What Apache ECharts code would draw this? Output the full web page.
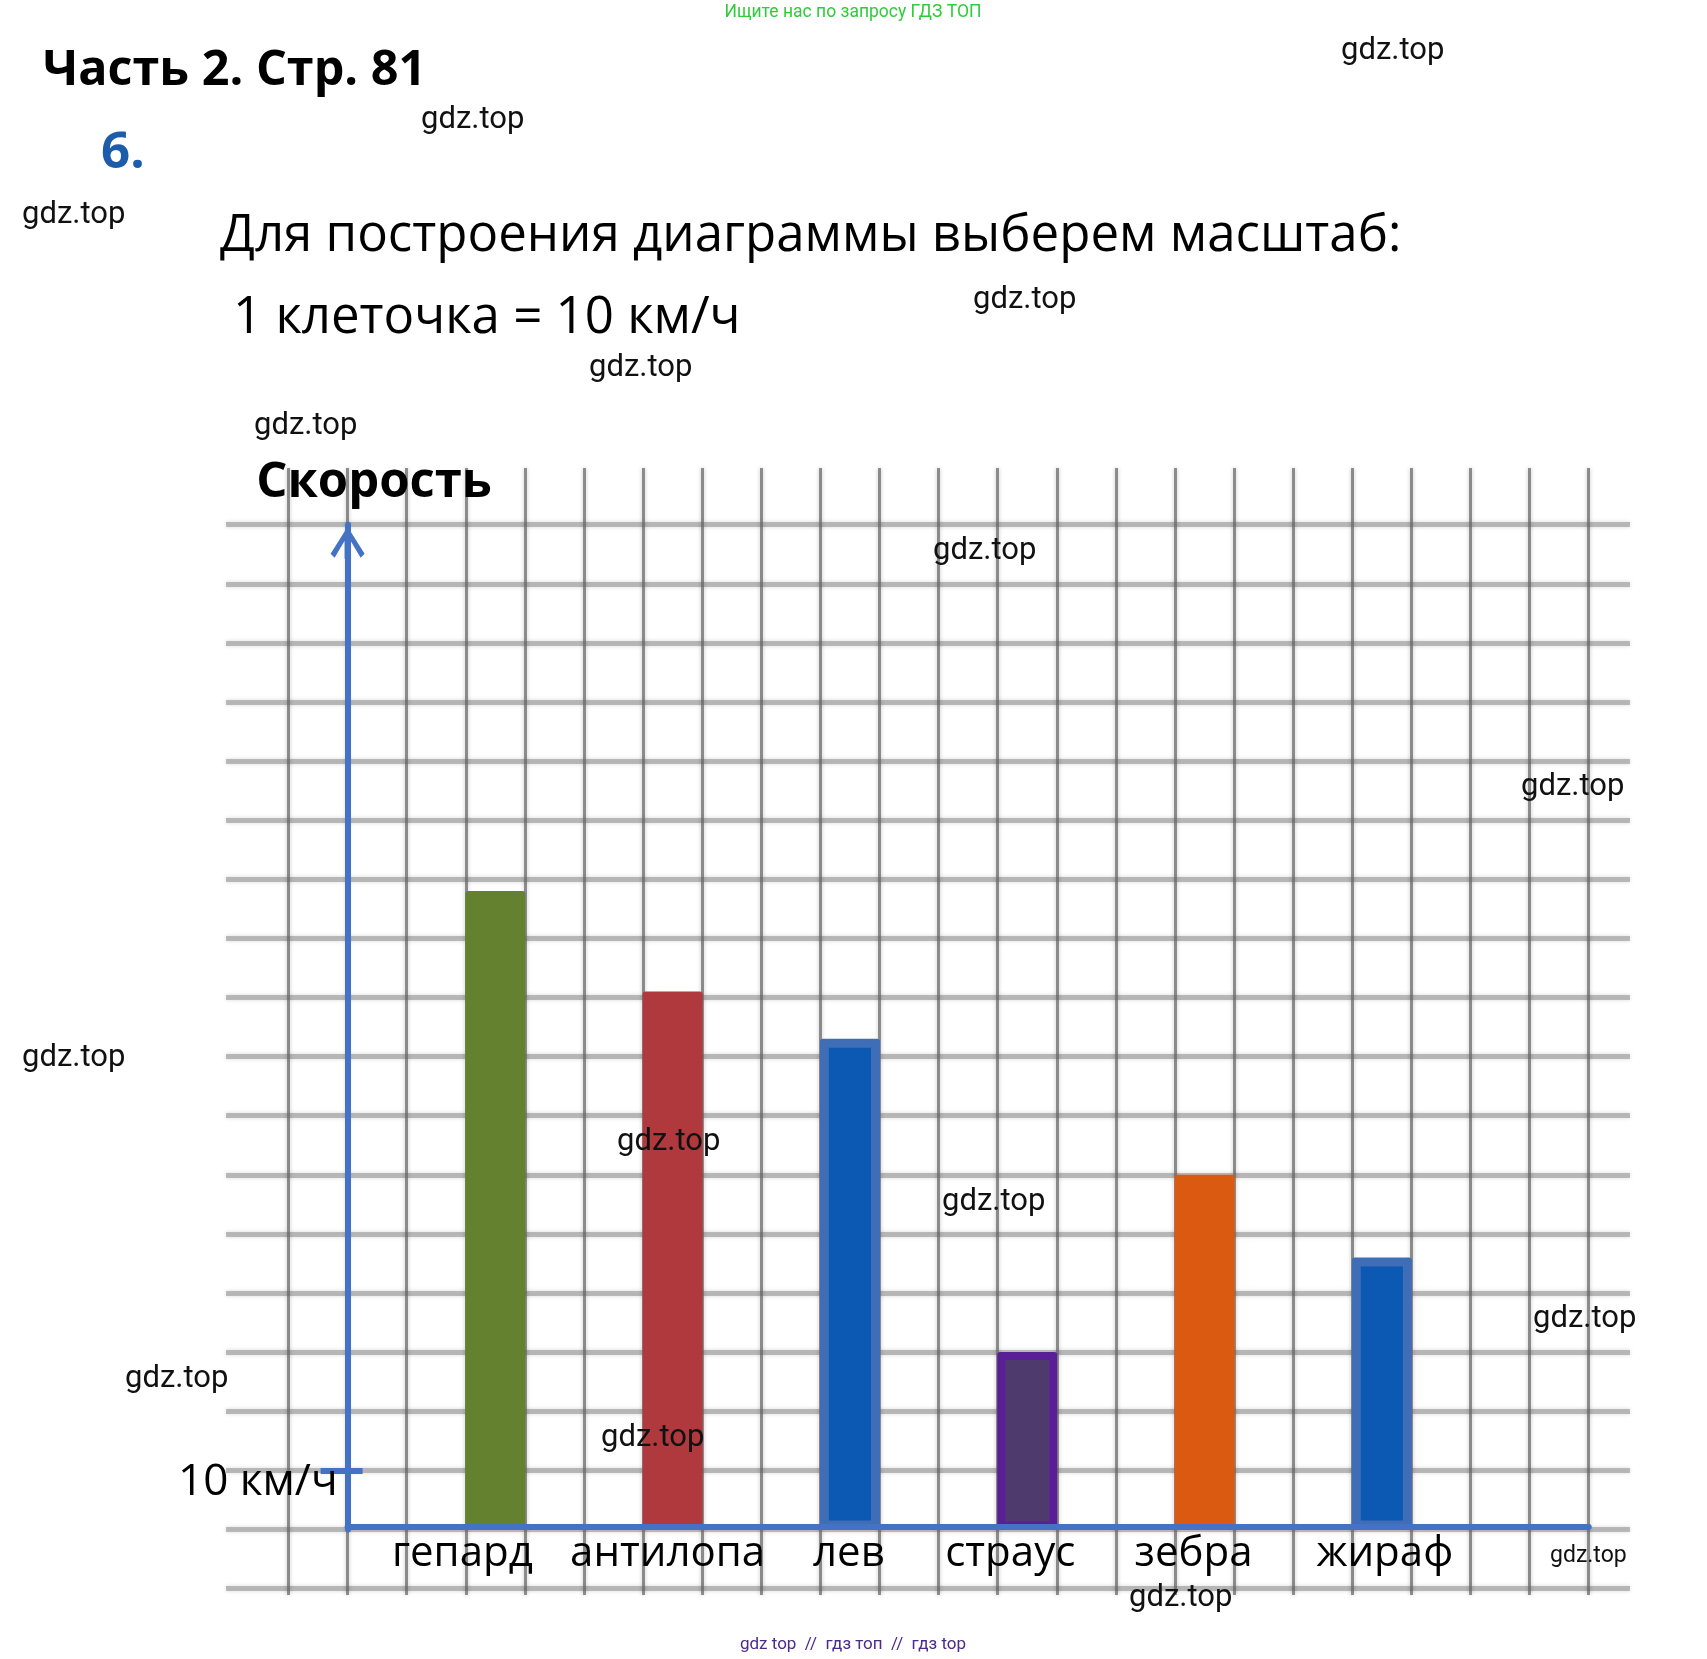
<!DOCTYPE html>
<html><head><meta charset="utf-8">
<script src="https://cdn.jsdelivr.net/npm/echarts@6/dist/echarts.min.js"></script>
<style>html,body{margin:0;padding:0;background:#fff}#c{width:1707px;height:1659px;background:#fff}</style>
</head><body><div id="c"></div>
<script>
// ---- data ----
const animals = ['гепард', 'антилопа', 'лев', 'страус', 'зебра', 'жираф'];
const speeds = [108, 91, 83, 30, 60, 46];           // км/ч
const yTickValues = [10];                            // the only labelled tick
const yUnit = 'км/ч';
const yName = 'Скорость';
const scaleText = '1 клеточка = 10 км/ч';

// ---- styles / layout ----
const barFill   = ['#64812F', '#B0393D', '#0B59B3', '#4E3A6C', '#DB5A12', '#0B59B3'];
const barBorder = [null, null, '#3F6DB6', '#5A1E97', null, '#3F6DB6'];
const borderW   = [0, 0, 9, 8, 0, 9];
const labelShift = [-33, -5, -1, -17, -11, 3];
const AX = '#4472C4';
const CELL = 59.1, PX0 = 288.5, PY0 = 524.7;
const SLOTS = 21, slotOf = i => 2 + 3 * i;
const FONT = 'Open Sans';

const xCats = Array.from({length: SLOTS}, (_, k) => {
  const i = animals.findIndex((_, j) => slotOf(j) === k);
  if (i < 0) return '';
  const d = labelShift[i];
  return {value: animals[i], textStyle: {padding: d < 0 ? [0, -2 * d, 0, 0] : [0, 0, 0, 2 * d]}};
});

const arrow = 'path://M17,0 L34,27 L30,31 L17,9 L4,31 L0,27 Z M14,4 L20,4 L20,32 L14,32 Z';

const wm = (x, y, size) => ({type: 'text', x, y, z: 50,
  style: {text: 'gdz.top', fill: '#111', fontSize: size || 31, fontFamily: 'Roboto', verticalAlign: 'middle'}});

const chart = echarts.init(document.getElementById('c'), null, {renderer: 'canvas'});
chart.setOption({
  animation: false,
  backgroundColor: '#fff',
  grid: [
    {left: 226, top: PY0, width: 1404, height: 18 * CELL, containLabel: false, outerBoundsMode: 'none'},
    {left: PX0, top: 468, width: 22 * CELL, height: 1127, containLabel: false, outerBoundsMode: 'none'},
    {left: PX0 + CELL, top: PY0, width: SLOTS * CELL, height: 17 * CELL, containLabel: false, outerBoundsMode: 'none'}
  ],
  xAxis: [
    {gridIndex: 0, type: 'value', min: 0, max: 1, show: false},
    {gridIndex: 1, type: 'value', min: 0, max: 22, interval: 1,
      axisLine: {show: false}, axisTick: {show: false}, axisLabel: {show: false},
      splitLine: {show: true, lineStyle: {color: 'rgba(100,100,100,0.7)', width: 3, shadowBlur: 4, shadowColor: 'rgba(0,0,0,0.3)'}}},
    {gridIndex: 2, type: 'category', data: xCats, boundaryGap: true, z: 3, offset: -3,
      axisLine: {show: true, lineStyle: {color: AX, width: 6}},
      axisTick: {show: false},
      axisLabel: {interval: 0, margin: 7, fontSize: 42, fontFamily: FONT, color: '#000'},
      splitLine: {show: false}}
  ],
  yAxis: [
    {gridIndex: 0, type: 'value', min: 0, max: 18, interval: 1, inverse: true,
      axisLine: {show: false}, axisTick: {show: false}, axisLabel: {show: false},
      splitLine: {show: true, lineStyle: {color: 'rgba(165,165,165,0.75)', width: 5, shadowBlur: 4, shadowColor: 'rgba(0,0,0,0.2)'}}},
    {gridIndex: 1, type: 'value', min: 0, max: 1, show: false},
    {gridIndex: 2, type: 'value', min: 0, max: 17 * 10, interval: 10, z: 4,
      name: yName, nameLocation: 'end', nameGap: 42,
      nameTextStyle: {fontSize: 49, fontWeight: 'bold', fontFamily: FONT, color: '#000',
        align: 'center', verticalAlign: 'middle', padding: [0, 0, 0, 53]},
      axisLine: {show: true, lineStyle: {color: AX, width: 6}, symbol: ['none', arrow], symbolSize: [34, 32], symbolOffset: [0, -18]},
      axisTick: {show: true, customValues: yTickValues, length: 27, lineStyle: {color: AX, width: 6}},
      axisLabel: {show: true, customValues: yTickValues, formatter: v => v + ' ' + yUnit,
        fontSize: 44, fontFamily: FONT, color: '#000', margin: 10, verticalAlign: 'top', lineHeight: 24},
      splitLine: {show: false}},
    {gridIndex: 2, type: 'value', min: 0, max: 170, position: 'left', z: 4,
      axisLine: {show: false}, axisLabel: {show: false}, splitLine: {show: false},
      axisTick: {show: true, inside: true, customValues: yTickValues, length: 15, lineStyle: {color: AX, width: 6}}}
  ],
  series: [{
    type: 'custom', xAxisIndex: 2, yAxisIndex: 2, z: 2,
    data: speeds.map((v, i) => [slotOf(i), v]),
    renderItem(params, api) {
      const i = params.dataIndex;
      const top = api.coord([api.value(0), api.value(1)]);
      const base = api.coord([api.value(0), 0]);
      const w = api.size([1, 0])[0] + 1;
      const x = top[0] - w / 2;
      const h = base[1] - top[1];
      const kids = [{type: 'rect', shape: {x, y: top[1], width: w, height: h, r: 3},
        style: {fill: barBorder[i] || barFill[i]}}];
      if (barBorder[i]) {
        const b = borderW[i];
        kids.push({type: 'rect', shape: {x: x + b, y: top[1] + b, width: w - 2 * b, height: h - 2 * b},
          style: {fill: barFill[i]}});
      }
      return {type: 'group', children: kids};
    }
  }],
  graphic: [
    {type: 'text', x: 853, y: 13, style: {text: 'Ищите нас по запросу ГДЗ ТОП', fill: '#2FCC3A', fontSize: 17.5, fontFamily: 'Roboto', align: 'center', verticalAlign: 'middle'}},
    {type: 'text', x: 43, y: 71, style: {text: 'Часть 2. Стр. 81', fill: '#000', fontSize: 48.5, fontWeight: 'bold', fontFamily: FONT, verticalAlign: 'middle'}},
    {type: 'text', x: 101, y: 153, style: {text: '6.', fill: '#1B5DAA', fontSize: 51, fontWeight: 'bold', fontFamily: FONT, verticalAlign: 'middle'}},
    {type: 'text', x: 220, y: 236, style: {text: 'Для построения диаграммы выберем масштаб:', fill: '#000', fontSize: 51, fontFamily: FONT, verticalAlign: 'middle'}},
    {type: 'text', x: 233, y: 318, style: {text: scaleText, fill: '#000', fontSize: 51, fontFamily: FONT, verticalAlign: 'middle'}},
    {type: 'text', x: 853, y: 1645, style: {text: 'gdz top  //  гдз топ  //  гдз top', fill: '#4B2A8A', fontSize: 17, fontFamily: 'Roboto', align: 'center', verticalAlign: 'middle'}},
    wm(1341, 51), wm(421, 120), wm(22, 215), wm(973, 300), wm(589, 368), wm(254, 426),
    wm(933, 551), wm(1521, 787), wm(22, 1058), wm(617, 1142), wm(942, 1202), wm(1533, 1319),
    wm(125, 1379), wm(601, 1438), wm(1550, 1556, 23), wm(1129, 1598)
  ]
});
</script></body></html>
